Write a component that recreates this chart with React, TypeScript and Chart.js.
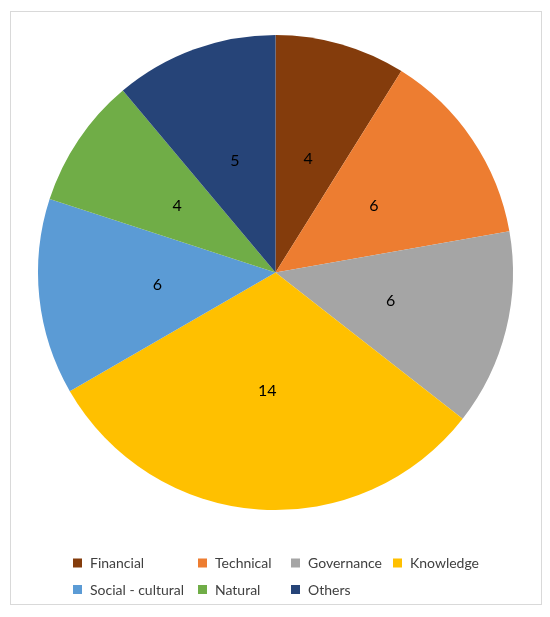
import React, { useEffect, useRef } from "react";
import { Chart, registerables } from "chart.js";

Chart.register(...registerables);

const categories = ["Financial", "Technical", "Governance", "Knowledge", "Social - cultural", "Natural", "Others"];
const values = [4, 6, 6, 14, 6, 4, 5];
const colors = ["#843C0C", "#ED7D31", "#A5A5A5", "#FFC000", "#5B9BD5", "#70AD47", "#264478"];

const legendCols = [73, 198, 291, 393];
const legendRows = [563, 589.5];

const FONT = "Lato, 'Open Sans', sans-serif";

const labelPlugin = {
  id: "sliceLabels",
  afterDatasetsDraw(chart: any) {
    const ctx = chart.ctx;
    const meta = chart.getDatasetMeta(0);
    ctx.save();
    ctx.fillStyle = "#000000";
    ctx.font = `16px ${FONT}`;
    ctx.textAlign = "center";
    ctx.textBaseline = "middle";
    meta.data.forEach((arc: any, i: number) => {
      const p = arc.tooltipPosition();
      ctx.fillText(String(chart.data.datasets[0].data[i]), p.x, p.y);
    });
    ctx.restore();
  },
};

const legendPlugin = {
  id: "gridLegend",
  afterDraw(chart: any) {
    const ctx = chart.ctx;
    const labels = chart.data.labels as string[];
    const bg = chart.data.datasets[0].backgroundColor as string[];
    ctx.save();
    ctx.font = `14px ${FONT}`;
    ctx.textAlign = "left";
    ctx.textBaseline = "middle";
    labels.forEach((lab, i) => {
      const col = i < 4 ? i : i - 4;
      const row = i < 4 ? 0 : 1;
      const x = legendCols[col];
      const y = legendRows[row];
      ctx.fillStyle = bg[i];
      ctx.fillRect(x, y - 4.5, 9, 9);
      ctx.fillStyle = "#404040";
      ctx.fillText(lab, x + 17, y + 0.5);
    });
    ctx.restore();
  },
};

export default function App() {
  const ref = useRef<HTMLCanvasElement>(null);
  useEffect(() => {
    if (!ref.current) return;
    const chart = new Chart(ref.current, {
      type: "pie",
      data: {
        labels: categories,
        datasets: [
          {
            data: values,
            backgroundColor: colors,
            borderWidth: 0,
          },
        ],
      },
      options: {
        animation: false,
        responsive: false,
        maintainAspectRatio: false,
        layout: { padding: { left: 38, right: 37, top: 35, bottom: 107 } },
        plugins: {
          legend: { display: false },
          tooltip: { enabled: false },
        },
      },
      plugins: [labelPlugin, legendPlugin],
    });
    return () => chart.destroy();
  }, []);
  return (
    <div style={{ position: "fixed", left: 0, top: 0, width: 550, height: 617, background: "#fff" }}>
      <div
        style={{
          position: "absolute",
          left: 10,
          top: 11,
          width: 530,
          height: 592,
          border: "1px solid #D9D9D9",
        }}
      />
      <canvas ref={ref} width={550} height={617} style={{ position: "absolute", left: 0, top: 0, width: 550, height: 617 }} />
    </div>
  );
}
